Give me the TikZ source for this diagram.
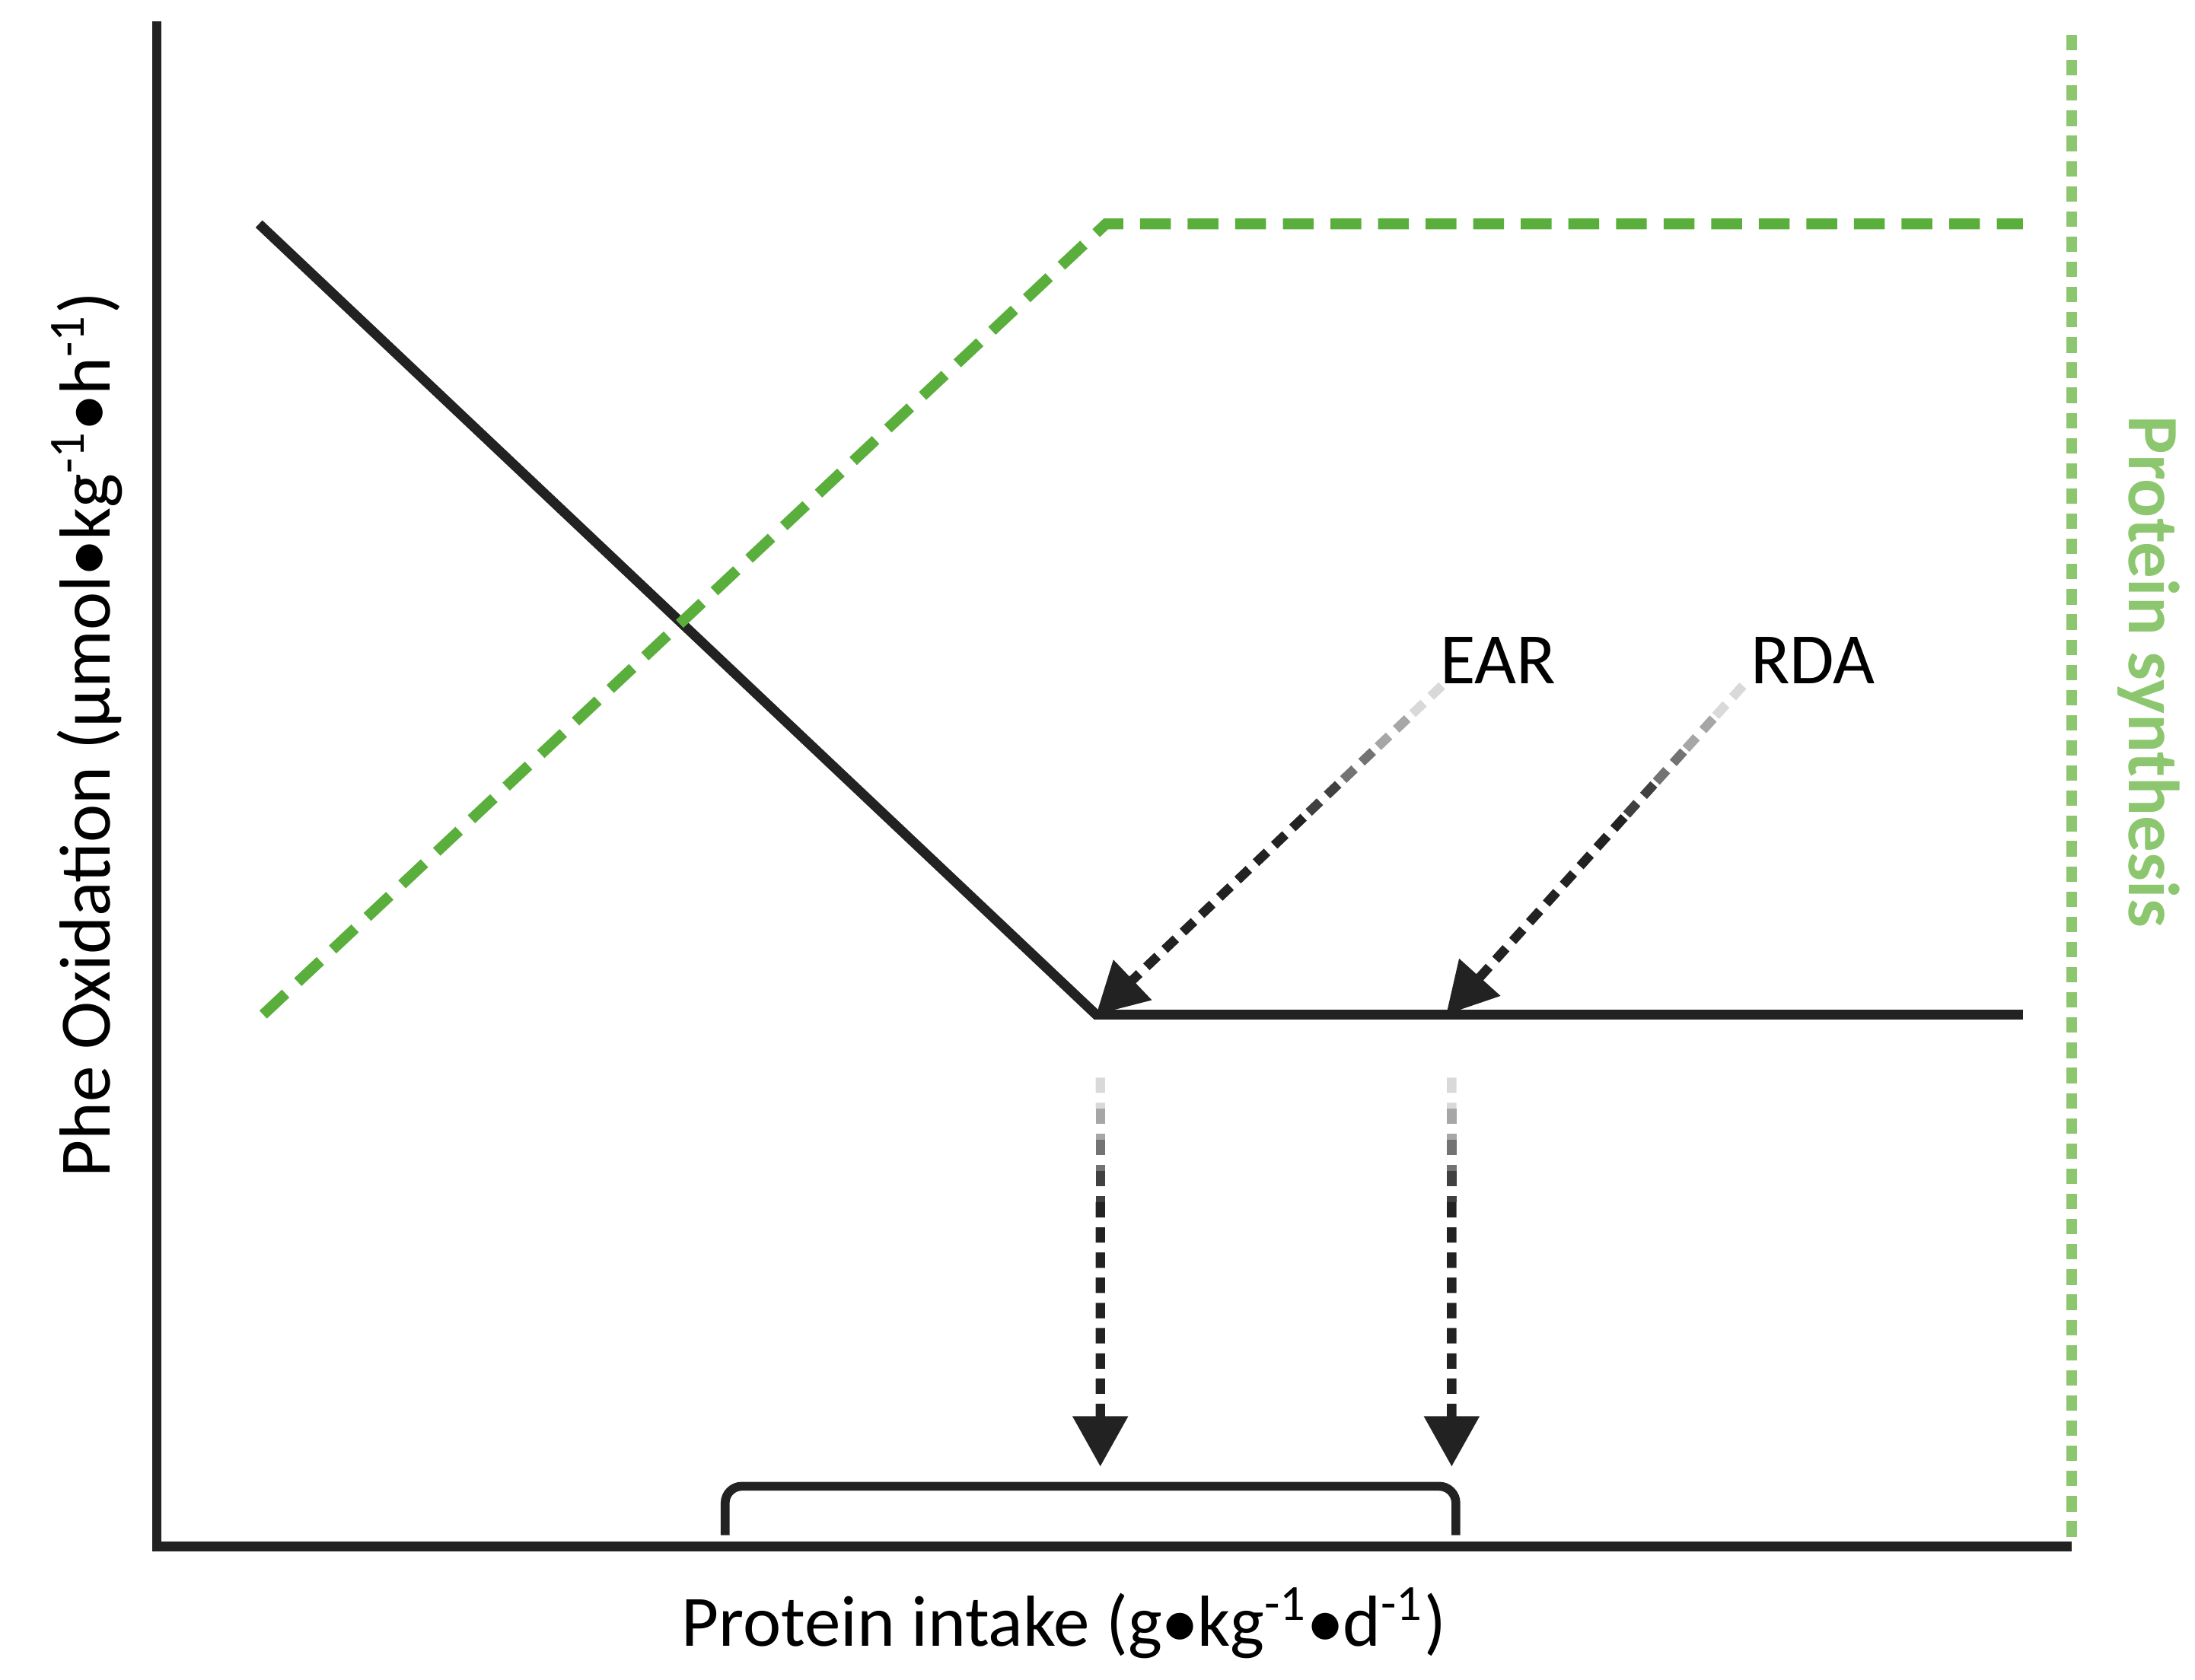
\documentclass[tikz,border=0pt]{standalone}
\usepackage{fontspec}
\setmainfont{Carlito}
\usetikzlibrary{arrows.meta,positioning,calc}
\definecolor{curvegreen}{HTML}{5AAF3C}
\definecolor{lightgreen}{HTML}{8CC66E}
\definecolor{linegray}{HTML}{222222}
\tikzset{
  axisline/.style={linegray, line width=2pt},
  oxline/.style={linegray, line width=2pt},
  synline/.style={curvegreen, line width=2.2pt, dash pattern=on 0.22cm off 0.12cm},
  bigtip/.style={-{Triangle[length=0.36cm,width=0.38cm]}},
  pointer/.style={line width=1.9pt, dash pattern=on 0.11cm off 0.07cm},
  label/.style={font=\fontsize{14.7}{18}\selectfont}
}
\begin{document}
\begin{tikzpicture}
  \useasboundingbox (0,0) rectangle (15.68,12);
  % axes
  \coordinate (origin) at (1.12,0.95);
  \draw[axisline] (1.12,11.85) -- (origin) -- (14.8,0.95);
  \draw[lightgreen, line width=2.2pt, dash pattern=on 0.11cm off 0.07cm] (14.8,11.75) -- (14.8,0.95);
  \node[label, rotate=-90, text=lightgreen] (synthesis) at (15.35,7.2) {\textbf{Protein synthesis}};
  \node[label, rotate=90] (ylab) at (0.62,6.75) {Phe Oxidation (µmol\raisebox{0.1ex}{\scalebox{0.8}{●}}kg\textsuperscript{-1}\raisebox{0.1ex}{\scalebox{0.8}{●}}h\textsuperscript{-1})};
  \node[label] (xlab) at (7.6,0.4) {Protein intake (g\raisebox{0.1ex}{\scalebox{0.8}{●}}kg\textsuperscript{-1}\raisebox{0.1ex}{\scalebox{0.8}{●}}d\textsuperscript{-1})};

  % oxidation and synthesis curves
  \coordinate (breakpt) at (7.83,4.75);
  \coordinate (rdapt) at (10.33,4.75);
  \draw[oxline] (1.85,10.4) -- (breakpt) -- (14.45,4.75);
  \draw[synline] (1.88,4.75) -- (7.9,10.4) -- (14.45,10.4);

  % labels with pointers
  \node[label] (ear) at (10.7,7.28) {EAR};
  \node[label] (rda) at (12.95,7.28) {RDA};
  \coordinate (earstart) at (10.3,7.1);
  \coordinate (rdastart) at (12.45,7.1);
  \foreach \a/\b/\c in {0/0.1/15,0.1/0.2/35,0.2/0.3/55,0.3/0.4/75}{
    \draw[pointer, black!\c] ($(earstart)!\a!(breakpt)$) -- ($(earstart)!\b!(breakpt)$);
    \draw[pointer, black!\c] ($(rdastart)!\a!(rdapt)$) -- ($(rdastart)!\b!(rdapt)$);
  }
  \draw[pointer, bigtip, linegray] ($(earstart)!0.4!(breakpt)$) -- (breakpt);
  \draw[pointer, bigtip, linegray] ($(rdastart)!0.4!(rdapt)$) -- (rdapt);

  % drop lines to intake axis
  \coordinate (eartop) at (7.86,4.3);
  \coordinate (earbot) at (7.86,1.52);
  \coordinate (rdatop) at (10.37,4.3);
  \coordinate (rdabot) at (10.37,1.52);
  \foreach \a/\b/\c in {0/0.08/15,0.08/0.16/35,0.16/0.24/55,0.24/0.32/75}{
    \draw[pointer, black!\c] ($(eartop)!\a!(earbot)$) -- ($(eartop)!\b!(earbot)$);
    \draw[pointer, black!\c] ($(rdatop)!\a!(rdabot)$) -- ($(rdatop)!\b!(rdabot)$);
  }
  \draw[pointer, bigtip, linegray] ($(eartop)!0.32!(earbot)$) -- (earbot);
  \draw[pointer, bigtip, linegray] ($(rdatop)!0.32!(rdabot)$) -- (rdabot);

  % intake range bracket
  \draw[oxline, line width=1.8pt, rounded corners=0.12cm] (5.18,1.03) -- (5.18,1.38) -- (10.4,1.38) -- (10.4,1.03);
\end{tikzpicture}
\end{document}
